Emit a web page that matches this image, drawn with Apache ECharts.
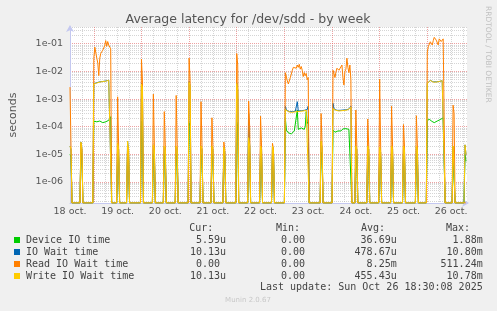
<!DOCTYPE html>
<html><head><meta charset="utf-8">
<script src="https://cdn.jsdelivr.net/npm/echarts@6/dist/echarts.min.js"></script>
<style>html,body{margin:0;padding:0;background:#f0f0f0}#c{width:497px;height:311px}</style>
</head><body><div id="c"></div>
<script>
// time in hours since 18 oct 00:00
const hours = [
  12,12.5,13, 17,17.5,18,18.5, 23.5,
  24,24.5,25,25.5,26,26.5,27,27.5,28,28.5,29,29.5,30,30.5,31,31.5,32,32.5,33,
  35.5,36,36.5,37, 40.5,41,41.5,42, 47.5,48,48.5,49, 53.5,54,54.5,55, 59,59.5,60,60.5, 65,65.5,66,66.5,
  71.5,72,72.5,73, 77.5,78,78.5,79, 83,83.5,84,84.5, 89,89.5,90,90.5, 95.5,96,96.5,97,
  101.5,102,102.5,103, 107.5,108,108.5,109, 113.5,114,114.5,115,
  120,120.5,121,121.5,122,122.5,123,123.5,124,124.5,125,125.5,126,126.5,127,127.5,128,128.5,129,129.5,130,130.5,131,131.5,132,132.5,
  138,138.5,139,139.5,
  144,144.5,145,145.5,146,146.5,147,147.5,148,148.5,149,149.5,150,150.5,151,151.5,152,152.5,153,153.5,154,
  155.5,156,156.5,157, 161.5,162,162.5,163, 167.5,168,168.5,169, 173.5,174,174.5,175, 179.5,180,180.5,181, 186,186.5,187,187.5,
  191.5,192,192.5,193,193.5,194,194.5,195,195.5,196,196.5,197,197.5,198,198.5,199,199.5,200,200.5,201,
  204.5,205,205.5,206, 210.5,211,211.5
];
const readIO = [
  2.7e-3,2e-5,0, 0,2.5e-5,1.5e-5,0, 0,
  0.03,0.075,0.08,0.03,0.02,0.007,0.03,0.045,0.05,0.058,0.07,0.087,0.13,0.08,0.12,0.09,0.1,0.066,0,
  0,1.2e-3,2e-5,0, 0,2e-5,1.5e-5,0, 0,0.028,4.5e-3,0, 0,1.5e-3,2e-5,0, 0,3.5e-4,2e-5,0, 0,1.35e-3,2e-5,0,
  0,0.03,4.8e-3,0, 0,8e-4,2e-5,0, 0,2.1e-4,2e-5,0, 0,2.8e-5,1.5e-5,0, 0,0.044,0.017,0,
  0,8.5e-4,1e-4,0, 0,2.4e-4,2e-5,0, 0,2.5e-5,1.5e-5,0,
  0,9e-3,8e-3,4.5e-3,3.5e-3,4e-3,6e-3,8e-3,0.011,0.014,0.012,0.016,0.013,0.017,0.014,0.018,0.012,0.015,0.011,6.5e-3,9e-3,7e-3,8.5e-3,5e-3,6e-3,0,
  0,3e-4,2e-5,0,
  0,0.011,0.012,6e-3,9.7e-3,0.013,0.015,0.011,0.012,9.5e-3,0.017,6e-3,3.2e-3,0.01,0.012,0.03,0.014,9e-3,0.017,5e-3,0,
  0,4e-4,2e-5,0, 0,1.9e-4,2e-5,0, 0,5.2e-3,2e-5,0, 0,5.5e-4,2e-5,0, 0,1.2e-4,2e-5,0, 0,2.5e-4,2e-5,0,
  0,0.05,0.078,0.09,0.118,0.1,0.09,0.13,0.17,0.16,0.135,0.12,0.09,0.15,0.16,0.12,0.13,0.15,0.14,0,
  0,6e-4,3e-4,0, 0,0,0
];
const writeIO = [
  2e-5,1.5e-5,0, 0,2.8e-5,1.5e-5,0, 0,
  3.5e-3,3.8e-3,3.9e-3,3.8e-3,4e-3,4.1e-3,4.1e-3,4.2e-3,4.1e-3,4.3e-3,4.3e-3,4.4e-3,4.4e-3,4.6e-3,4.5e-3,4.8e-3,5e-3,5.6e-3,0,
  0,2.5e-5,1.5e-5,0, 0,3e-5,1.5e-5,0, 0,3.5e-3,2.5e-3,0, 0,2.2e-5,1.5e-5,0, 0,2e-5,1.5e-5,0, 0,2e-5,1.5e-5,0,
  0,4e-3,3e-3,0, 0,2e-5,1.5e-5,0, 0,2e-5,1.5e-5,0, 0,1.8e-5,1.2e-5,0, 0,3.6e-3,2e-3,0,
  0,4e-5,2e-5,0, 0,2e-5,1.5e-5,0, 0,2e-5,1.5e-5,0,
  0,4.2e-4,3.8e-4,3.6e-4,3.5e-4,3.4e-4,3.4e-4,3.3e-4,3.4e-4,3.5e-4,3.4e-4,3.5e-4,3.6e-4,3.5e-4,3.6e-4,3.5e-4,3.6e-4,3.7e-4,3.6e-4,3.7e-4,3.8e-4,3.7e-4,3.9e-4,4.1e-4,4.3e-4,0,
  0,3e-5,1.5e-5,0,
  0,4.5e-4,4.2e-4,4e-4,3.9e-4,3.8e-4,3.8e-4,3.7e-4,3.8e-4,3.7e-4,3.8e-4,3.9e-4,3.8e-4,3.9e-4,4e-4,4e-4,4.1e-4,4.2e-4,4.5e-4,5e-4,0,
  0,2e-5,1.5e-5,0, 0,2e-5,1.5e-5,0, 0,1.8e-5,1.2e-5,0, 0,2e-5,1.5e-5,0, 0,2e-5,1.5e-5,0, 0,2e-5,1.5e-5,0,
  0,3.6e-3,4e-3,4.2e-3,4.7e-3,4.5e-3,4.4e-3,4.1e-3,4e-3,4.2e-3,4.1e-3,4e-3,4.1e-3,4.3e-3,4.3e-3,4.4e-3,4.6e-3,4.8e-3,5.1e-3,0,
  0,2e-5,2e-5,0, 0,2.2e-5,1.013e-5
];
const ioWait = [
  2e-5,1.5e-5,0, 0,2.8e-5,1.5e-5,0, 0,
  3.6e-3,3.8e-3,4e-3,3.9e-3,4e-3,4.1e-3,4.2e-3,4.2e-3,4.1e-3,4.3e-3,4.4e-3,4.4e-3,4.5e-3,4.6e-3,4.6e-3,4.8e-3,5.1e-3,5.6e-3,0,
  0,2.5e-5,1.5e-5,0, 0,3e-5,1.5e-5,0, 0,3.8e-3,2.6e-3,0, 0,2.2e-5,1.5e-5,0, 0,2e-5,1.5e-5,0, 0,2e-5,1.5e-5,0,
  0,4.3e-3,3.1e-3,0, 0,2e-5,1.5e-5,0, 0,2e-5,1.5e-5,0, 0,1.8e-5,1.2e-5,0, 0,3.9e-3,2.2e-3,0,
  0,3e-4,2e-5,0, 0,2e-5,1.5e-5,0, 0,2e-5,1.5e-5,0,
  0,5.5e-4,4e-4,3.7e-4,3.6e-4,3.5e-4,3.5e-4,3.4e-4,3.5e-4,3.6e-4,3.5e-4,3.6e-4,3.7e-4,8e-4,3.7e-4,3.6e-4,3.7e-4,3.8e-4,3.7e-4,3.8e-4,3.9e-4,3.8e-4,4e-4,4.2e-4,5.5e-4,0,
  0,3e-5,1.5e-5,0,
  0,7e-4,4.4e-4,4.1e-4,4e-4,3.9e-4,3.9e-4,3.8e-4,3.9e-4,3.8e-4,3.9e-4,4e-4,3.9e-4,4e-4,4.1e-4,4.1e-4,4.2e-4,4.3e-4,4.7e-4,5.5e-4,0,
  0,2e-5,1.5e-5,0, 0,2e-5,1.5e-5,0, 0,1.8e-5,1.2e-5,0, 0,2e-5,1.5e-5,0, 0,2e-5,1.5e-5,0, 0,2e-5,1.5e-5,0,
  0,3.7e-3,4e-3,4.3e-3,4.7e-3,4.6e-3,4.4e-3,4.2e-3,4.1e-3,4.2e-3,4.2e-3,4.1e-3,4.2e-3,4.3e-3,4.4e-3,4.5e-3,4.6e-3,4.9e-3,5.2e-3,0,
  0,2e-5,2e-5,0, 0,2.2e-5,1.013e-5
];
const deviceIO = [
  1e-5,8e-6,0, 0,1.2e-5,8e-6,0, 0,
  1.6e-4,1.5e-4,1.8e-4,1.5e-4,1.4e-4,1.5e-4,1.6e-4,1.4e-4,1.5e-4,1.4e-4,1.5e-4,1.4e-4,1.5e-4,1.6e-4,1.5e-4,1.7e-4,2e-4,2.3e-4,0,
  0,1e-5,8e-6,0, 0,1.2e-5,8e-6,0, 0,1.6e-4,1.2e-4,0, 0,1e-5,8e-6,0, 0,1e-5,8e-6,0, 0,1e-5,8e-6,0,
  0,1.4e-4,1e-4,0, 0,1e-5,8e-6,0, 0,1e-5,8e-6,0, 0,1e-5,8e-6,0, 0,1.5e-4,1e-4,0,
  0,1.2e-4,2e-5,0, 0,1e-5,8e-6,0, 0,1e-5,8e-6,0,
  0,2e-4,7.5e-5,6.5e-5,6e-5,5.5e-5,6e-5,5.5e-5,6e-5,5.5e-5,7e-5,6e-5,6.5e-5,4e-4,8e-5,7e-5,8.5e-5,9e-5,8e-5,9e-5,8e-5,1e-4,3.5e-4,1.5e-4,1.2e-4,0,
  0,1.2e-5,8e-6,0,
  0,7.5e-5,6.5e-5,6.3e-5,6.5e-5,6e-5,7e-5,6.5e-5,7.5e-5,7e-5,8e-5,8.3e-5,7.5e-5,8e-5,8.5e-5,8e-5,8.5e-5,8e-5,8.3e-5,9e-5,0,
  0,1e-5,8e-6,0, 0,1e-5,8e-6,0, 0,1e-5,8e-6,0, 0,1e-5,8e-6,0, 0,1e-5,8e-6,0, 0,1e-5,8e-6,0,
  0,1.6e-4,1.7e-4,1.9e-4,1.8e-4,1.6e-4,1.5e-4,1.5e-4,1.4e-4,1.45e-4,1.5e-4,1.6e-4,1.7e-4,1.65e-4,1.8e-4,1.9e-4,1.9e-4,2.1e-4,2.3e-4,0,
  0,1e-5,1e-5,0, 0,1e-5,5.59e-6
];
const seriesNames = ['Device IO time','IO Wait time','Read IO Wait time','Write IO Wait time'];
const seriesColors = ['#00CC00','#0066B3','#FF8000','#FFCC00'];
const dayLabels = ['18 oct.','19 oct.','20 oct.','21 oct.','22 oct.','23 oct.','24 oct.','25 oct.','26 oct.'];
const decadeLabels = [-6,-5,-4,-3,-2,-1];
const curStats = ['5.59u','10.13u','0.00 ','10.13u'];
const minStats = ['0.00 ','0.00 ','0.00 ','0.00 '];
const avgStats = ['36.69u','478.67u','8.25m','455.43u'];
const maxStats = ['1.88m','10.80m','511.24m','10.78m'];
const lastUpdate = 'Last update: Sun Oct 26 18:30:08 2025';

[readIO,writeIO,ioWait,deviceIO].forEach((a,i)=>{ if(a.length!==hours.length) throw new Error('len mismatch '+i+' '+a.length+' vs '+hours.length); });

const XMIN = 12, XMAX = 212;
const YMIN = -6.76, YMAX = -0.395;
const toLog = v => v > 0 ? Math.log10(v) : YMIN;

const MAJOR = 'rgba(225,100,100,0.6)';
const MINOR = 'rgba(185,185,185,0.6)';
const xGrid = []; for (let h = 18; h < XMAX; h += 6) xGrid.push(h);
const xGridColors = xGrid.map(h => h % 24 === 0 ? MAJOR : MINOR);
const yGrid = [], yGridColors = [];
for (let n = -7; n <= 0; n++) for (let k = 1; k <= 9; k++) {
  const L = n + Math.log10(k);
  if (L > YMIN + 1e-6 && L < YMAX - 1e-6) { yGrid.push(L); yGridColors.push(k === 1 ? MAJOR : MINOR); }
}
const noonHours = dayLabels.map((d,i) => 12 + 24*i);

const chart = echarts.init(document.getElementById('c'), null, {renderer:'canvas'});
const axisCol = '#c4c8f0';
const font = 'DejaVu Sans';
const vals = [deviceIO, ioWait, readIO, writeIO];
const MONO = '10px "DejaVu Sans Mono"';

const graphics = [
  {type:'text', x:248, y:19.5, style:{text:'Average latency for /dev/sdd - by week', font:'12.5px "DejaVu Sans"', fill:'#555', textAlign:'center', textVerticalAlign:'middle'}},
  {type:'text', x:488, y:6, rotation:-Math.PI/2, style:{text:'RRDTOOL / TOBI OETIKER', font:'7.5px "DejaVu Sans"', fill:'#c0c0c0', textAlign:'left', textVerticalAlign:'middle'}},
  {type:'text', x:213.3, y:228.5, style:{text:'Cur:', font:MONO, fill:'#444', textAlign:'right', textVerticalAlign:'middle'}},
  {type:'text', x:300, y:228.5, style:{text:'Min:', font:MONO, fill:'#444', textAlign:'right', textVerticalAlign:'middle'}},
  {type:'text', x:385, y:228.5, style:{text:'Avg:', font:MONO, fill:'#444', textAlign:'right', textVerticalAlign:'middle'}},
  {type:'text', x:470, y:228.5, style:{text:'Max:', font:MONO, fill:'#444', textAlign:'right', textVerticalAlign:'middle'}},
  {type:'text', x:482.7, y:287.5, style:{text:lastUpdate, font:MONO, fill:'#444', textAlign:'right', textVerticalAlign:'middle'}},
  {type:'text', x:248, y:300, style:{text:'Munin 2.0.67', font:'7px "DejaVu Sans"', fill:'#c8c8c8', textAlign:'center', textVerticalAlign:'middle'}}
];
seriesNames.forEach((n,i) => {
  const cy = 240 + 12*i;
  graphics.push({type:'rect', shape:{x:14, y:cy-3, width:6, height:6}, style:{fill:seriesColors[i]}});
  graphics.push({type:'text', x:26, y:cy, style:{text:n, font:MONO, fill:'#444', textVerticalAlign:'middle'}});
  [[curStats,226],[minStats,311],[avgStats,396.7],[maxStats,482.7]].forEach(([arr,xr]) => {
    graphics.push({type:'text', x:xr, y:cy, style:{text:arr[i], font:MONO, fill:'#444', textAlign:'right', textVerticalAlign:'middle'}});
  });
});

chart.setOption({
  animation:false,
  backgroundColor:'#f0f0f0',
  grid:{left:67, right:30, top:27, bottom:108, show:true, backgroundColor:'#ffffff', borderWidth:0},
  xAxis:{
    type:'value', min:XMIN, max:XMAX,
    axisLine:{show:true, lineStyle:{color:axisCol, width:1}, symbol:['none','arrow'], symbolSize:[6,7], symbolOffset:[0,2]},
    axisTick:{show:false, customValues:xGrid},
    axisLabel:{customValues:noonHours, formatter:v => dayLabels[Math.round((v-12)/24)], color:'#555', fontFamily:font, fontSize:9.5, margin:4},
    splitLine:{show:true, lineStyle:{color:xGridColors, type:[1,1], width:1}}
  },
  yAxis:{
    type:'value', min:YMIN, max:YMAX,
    name:'seconds', nameLocation:'middle', nameGap:51, nameTextStyle:{color:'#555', fontFamily:font, fontSize:11},
    axisLine:{show:true, lineStyle:{color:axisCol, width:1}, symbol:['none','arrow'], symbolSize:[6,7], symbolOffset:[0,2]},
    axisTick:{show:false, customValues:yGrid},
    axisLabel:{customValues:decadeLabels, formatter:v => '1e-0' + Math.round(-v), color:'#555', fontFamily:font, fontSize:9.5, margin:7},
    splitLine:{show:true, lineStyle:{color:yGridColors, type:[1,1], width:1}}
  },
  series: vals.map((arr,i) => ({
    type:'line', name:seriesNames[i], showSymbol:false, symbol:'none',
    lineStyle:{color:seriesColors[i], width:1}, itemStyle:{color:seriesColors[i]},
    data: hours.map((h,j) => [h, toLog(arr[j])]),
    z: 2 + i
  })),
  graphic: graphics
});
</script></body></html>
